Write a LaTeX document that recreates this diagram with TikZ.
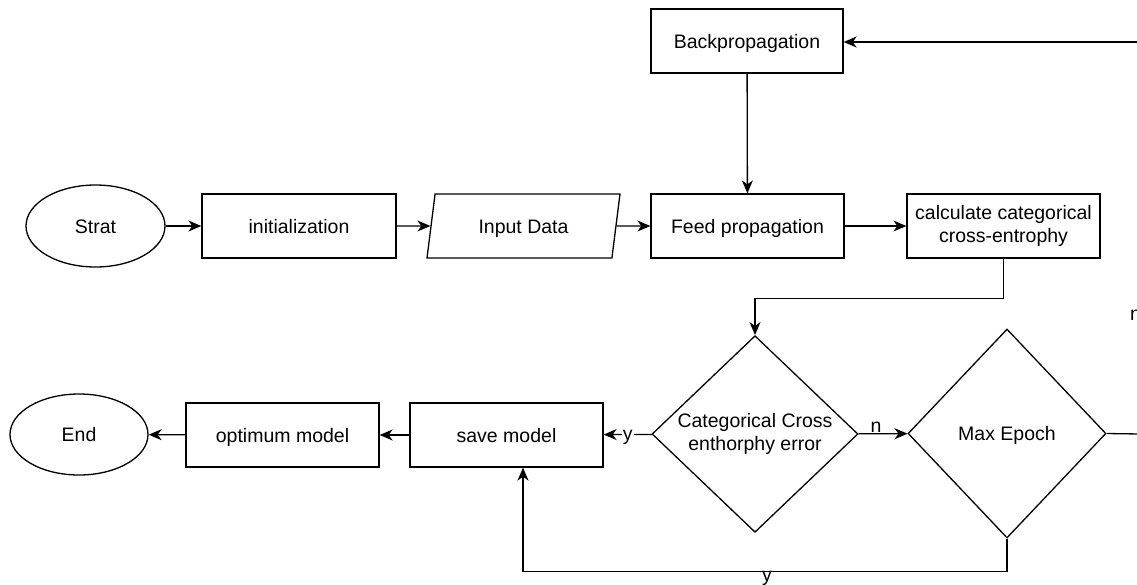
\documentclass[tikz,border=0pt]{standalone}
\usepackage{fontspec}
\setmainfont{Liberation Sans}
\usetikzlibrary{shapes.geometric,arrows.meta}
\tikzset{
  base/.style={draw, line width=1.3pt, inner sep=0pt, align=center,
    font=\fontsize{19.5}{23.5}\selectfont},
  oneline/.style={text height=14pt, text depth=0pt},
  procbox/.style={base, rectangle, minimum width=193pt, minimum height=64pt},
  term/.style={base, oneline, ellipse, minimum width=139pt, minimum height=82pt},
  iobox/.style={base, oneline, trapezium, trapezium left angle=60, trapezium right angle=120,
    trapezium stretches body, minimum width=193pt, minimum height=64pt},
  decision/.style={base, diamond},
  conn/.style={line width=1.3pt},
  arr/.style={conn, -{Stealth[length=13pt,width=11pt,inset=4pt]}},
  lbl/.style={font=\fontsize{19.5}{23.5}\selectfont, inner sep=1pt}
}
\begin{document}
\begin{tikzpicture}[x=1pt,y=-1pt]
\useasboundingbox (0,0) rectangle (1137,584);
\node[term] (start) at (95.5,226) {Strat};
\node[procbox, oneline, minimum width=194pt] (init) at (299,226) {initialization};
\node[iobox] (inp) at (523.5,226) {Input Data};
\node[procbox, oneline] (feed) at (747.5,226) {Feed propagation};
\node[procbox] (calc) at (1003.5,226) {calculate categorical\\cross-entrophy};
\node[procbox, oneline, minimum width=192pt] (bp) at (747,41) {Backpropagation};
\node[decision, minimum width=206pt, minimum height=192pt] (d1) at (755,434) {Categorical Cross\\enthorphy error};
\node[decision, oneline, minimum width=198pt, minimum height=209pt] (d2) at (1007,433.5) {Max Epoch};
\node[procbox, oneline] (save) at (506.5,435) {save model};
\node[procbox, oneline] (opt) at (282.5,435) {optimum model};
\node[term, minimum width=138pt, minimum height=81pt] (end) at (79,434.5) {End};
\coordinate (rtop) at (1140,42);
\coordinate (rmid) at (1140,434);

\draw[arr] (start) -- (init);
\draw[arr] (init) -- (inp);
\draw[arr] (inp) -- (feed);
\draw[arr] (feed) -- (calc);
\draw[arr] (bp) -- (feed);
\draw[arr] (calc.south) -- ++(0,40) -| (d1.north);
\draw[arr] (d1) -- node[lbl, fill=white, yshift=-3pt] {y} (save);
\draw[arr] (d1) -- node[lbl, anchor=south, xshift=-7pt] {n} (d2);
\draw[conn] (d2.east) -- (rmid);
\draw[arr] (rtop) -- (bp.east |- rtop);
\draw[arr] (save) -- (opt);
\draw[arr] (opt) -- (end);
\draw[arr] (d2.south) -- ++(0,33) -- node[lbl, anchor=north, inner sep=0pt, yshift=1pt, pos=0.496] {y} ++(-484,0) -- ([xshift=16.5pt]save.south);
\node[lbl, anchor=west] (ncut) at (1129,315) {n};
\end{tikzpicture}
\end{document}
